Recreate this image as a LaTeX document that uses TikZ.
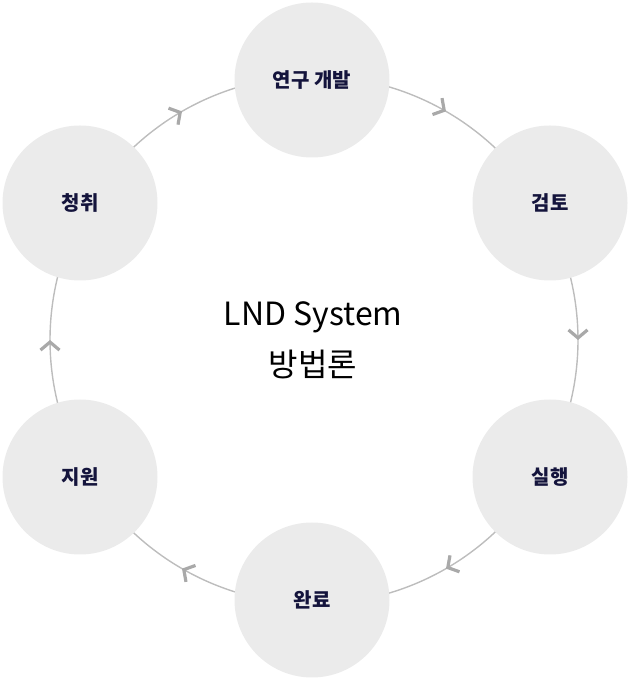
\documentclass[tikz,border=0pt]{standalone}
\usepackage{fontspec}
\setmainfont{Noto Sans CJK KR}
\usepackage{xcolor}
\usetikzlibrary{arrows.meta,decorations.markings}
\definecolor{stepfill}{HTML}{EBEBEB}
\definecolor{steptext}{HTML}{14143C}
\definecolor{ringline}{HTML}{BDBDBD}
\definecolor{chevcol}{HTML}{A9A9A9}
\tikzset{chev/.tip={Straight Barb[length=8pt,width=19pt,line width=3.2pt,color=chevcol]}}

\begin{document}
\begin{tikzpicture} %LND cycle
      [x=1pt, y=1pt,
      stepnode/.style={circle, fill=stepfill, minimum size=155pt, inner sep=0pt,
        text=steptext, font=\fontsize{20}{24}\selectfont\bfseries},
      ring/.style={draw=ringline, line width=1.4pt,
        postaction={decorate, decoration={markings, mark=at position 0.5 with {\arrow{chev}}}}}
      ]
      \useasboundingbox (0,0) rectangle (631,680);
      \coordinate (ctr) at (314,340);
      % ring under the nodes
      \foreach \a in {90,30,-30,-90,-150,150}
        \draw[ring] (ctr) ++(\a:264pt) arc[start angle=\a, delta angle=-60, radius=264pt];
      \node[stepnode] (dev) at (312,600) {연구 개발};
      \node[stepnode] (rev) at (550,477) {검토};
      \node[stepnode] (run) at (550,203) {실행};
      \node[stepnode] (done) at (312,80) {완료};
      \node[stepnode] (sup) at (80,203) {지원};
      \node[stepnode] (req) at (80,477) {청취};
      \node[align=center, font=\fontsize{32}{51}\selectfont] (title) at (313,340) {LND System\\방법론};
\end{tikzpicture}
\end{document}
